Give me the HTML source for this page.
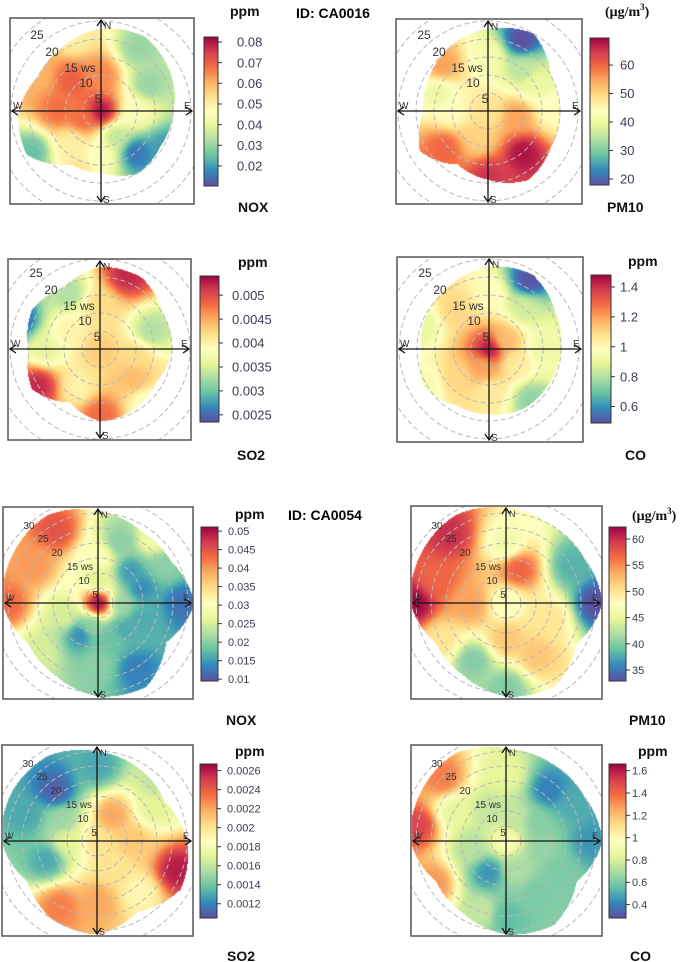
<!DOCTYPE html>
<html><head><meta charset="utf-8">
<style>
html,body{margin:0;padding:0;background:#fff;}
#wrap{position:relative;width:685px;height:962px;overflow:hidden;}
canvas,svg{position:absolute;left:0;top:0;}
</style></head>
<body>
<div id="wrap">
<canvas id="cv" width="685" height="962"></canvas>
<svg id="sv" width="685" height="962" xmlns="http://www.w3.org/2000/svg">
<defs>
<linearGradient id="spec" x1="0" y1="1" x2="0" y2="0">
<stop offset="0" stop-color="#5E4FA2"/><stop offset="0.1" stop-color="#3288BD"/><stop offset="0.2" stop-color="#66C2A5"/>
<stop offset="0.3" stop-color="#ABDDA4"/><stop offset="0.4" stop-color="#E6F598"/><stop offset="0.5" stop-color="#FFFFBF"/>
<stop offset="0.6" stop-color="#FEE08B"/><stop offset="0.7" stop-color="#FDAE61"/><stop offset="0.8" stop-color="#F46D43"/>
<stop offset="0.9" stop-color="#D53E4F"/><stop offset="1" stop-color="#9E0142"/>
</linearGradient>
</defs>
<text x="296" y="18" font-family="Liberation Sans, sans-serif" font-weight="bold" font-size="14">ID: CA0016</text>
<text x="288" y="520" font-family="Liberation Sans, sans-serif" font-weight="bold" font-size="14">ID: CA0054</text>
</svg>
</div>
<script>
// ---------- data: control points (direction deg, wind speed, value), boundary (max ws every 30deg), ticks ----------
const p1Dirs=[0,0,315,270,300,30,60,90,140,150,180,225,240,200,340,120,250];
const p1Ws=[0,10,12,12,20,20,15,10,15,8,12,12,22,18,22,20,6];
const p1Vals=[0.08,0.065,0.07,0.068,0.06,0.03,0.03,0.045,0.015,0.035,0.045,0.05,0.025,0.052,0.05,0.02,0.068];
const p1Bound=[23,24,22,20,19,20,17,17,24,23,20,21];
const p1Ticks=[0.02,0.03,0.04,0.05,0.06,0.07,0.08];

const p2Dirs=[0,25,40,0,315,290,270,140,180,230,100,90,200,60];
const p2Ws=[0,22,15,15,18,15,10,15,18,16,8,18,8,15];
const p2Vals=[48,18,35,42,55,40,44,68,65,60,55,44,50,40];
const p2Bound=[23,25,20,20,20,22,19,17,22,18,19,21];
const p2Ticks=[20,30,40,50,60];

const p3Dirs=[0,20,0,330,290,270,70,100,130,140,180,240,210,300];
const p3Ws=[0,22,12,18,24,15,15,10,12,20,18,20,12,10];
const p3Vals=[0.0043,0.0052,0.0042,0.0033,0.0025,0.0036,0.0033,0.0042,0.0044,0.0038,0.0048,0.0052,0.004,0.004];
const p3Bound=[23,23,20,20,18,19,20,17,22,20,22,20];
const p3Ticks=[0.0025,0.003,0.0035,0.004,0.0045,0.005];

const p4Dirs=[0,30,40,0,320,290,90,140,180,230,240,120,200,60];
const p4Ws=[0,22,15,15,15,20,15,18,12,12,20,8,5,5];
const p4Vals=[1.45,0.5,0.85,1.0,1.1,0.9,0.92,0.75,1.05,1.1,0.95,1.05,1.2,1.15];
const p4Bound=[23,24,21,20,19,19,18,18,21,19,20,21];
const p4Ticks=[0.6,0.8,1,1.2,1.4];

const p5Dirs=[0,0,330,300,270,0,45,60,40,90,110,150,210,180,230,250,90,200,135,20,70,160];
const p5Ws=[0,8,28,25,30,15,15,25,28,28,15,25,12,20,25,12,8,8,12,22,15,12];
const p5Vals=[0.05,0.026,0.045,0.04,0.043,0.03,0.015,0.02,0.028,0.012,0.016,0.013,0.014,0.02,0.025,0.025,0.021,0.02,0.016,0.02,0.014,0.018];
const p5Bound=[31,28,28,32,26,32,31,28,27,32,33,34];
const p5Ticks=[0.01,0.015,0.02,0.025,0.03,0.035,0.04,0.045,0.05];

const p6Dirs=[0,20,0,320,290,270,270,60,90,110,150,180,210,240,180];
const p6Ws=[0,12,20,30,25,31,12,25,30,15,20,12,22,25,28];
const p6Vals=[47,57,46,60,57,62,54,38,33,50,52,52,40,50,40];
const p6Bound=[32,30,30,32,27,32,31,28,27,32,33,34];
const p6Ticks=[35,40,45,50,55,60];

const p7Dirs=[0,30,320,0,290,250,270,60,110,140,180,210,150,45,300,90];
const p7Ws=[0,10,22,25,25,18,10,22,28,22,20,25,10,28,14,12];
const p7Vals=[0.002,0.0022,0.0011,0.0013,0.0013,0.0013,0.0017,0.0017,0.0026,0.0019,0.0022,0.0023,0.002,0.0016,0.0015,0.0021];
const p7Bound=[30,28,26,30,32,27,31,30,27,32,33,33];
const p7Ticks=[0.0012,0.0014,0.0016,0.0018,0.002,0.0022,0.0024,0.0026];

const p8Dirs=[0,315,280,240,300,0,40,60,90,100,150,180,210,200,260,20,120,330,60,160];
const p8Ws=[0,30,30,28,20,22,22,25,28,12,20,25,12,25,12,8,20,12,12,10];
const p8Vals=[0.95,1.35,1.5,1.3,0.85,0.85,0.4,0.5,0.45,0.65,0.6,0.55,0.45,0.75,0.72,0.75,0.6,0.75,0.62,0.7];
const p8Bound=[31,30,30,32,27,32,31,28,27,32,33,34];
const p8Ticks=[0.4,0.6,0.8,1,1.2,1.4,1.6];

// ---------- layout ----------
const panels=[
 {n:'nox-ca0016',dirs:p1Dirs,ws:p1Ws,vals:p1Vals,bound:p1Bound,ticks:p1Ticks,min:0.0103,max:0.0824,
  box:[10,18,194,204],cx:101,cy:111,sc:3.6,rings:[5,10,15,20,25],bar:[204,37,218,186],fs:13,tl:[237],
  unit:['ppm',230,16,false],name:['NOX',238,212],big:true},
 {n:'pm10-ca0016',dirs:p2Dirs,ws:p2Ws,vals:p2Vals,bound:p2Bound,ticks:p2Ticks,min:17.9,max:69.5,
  box:[396,19,582,204],cx:488,cy:111,sc:3.6,rings:[5,10,15,20,25],bar:[590,38,609,185],fs:13,tl:[620],
  unit:['(μg/m',605,16,true],name:['PM10',607,212],big:true},
 {n:'so2-ca0016',dirs:p3Dirs,ws:p3Ws,vals:p3Vals,bound:p3Bound,ticks:p3Ticks,min:0.00235,max:0.0054,
  box:[8,259,191,440],cx:100,cy:349,sc:3.6,rings:[5,10,15,20,25],bar:[200,276,219,422],fs:13,tl:[232],
  unit:['ppm',238,267,false],name:['SO2',237,460],big:true},
 {n:'co-ca0016',dirs:p4Dirs,ws:p4Ws,vals:p4Vals,bound:p4Bound,ticks:p4Ticks,min:0.49,max:1.48,
  box:[397,257,583,442],cx:489,cy:349,sc:3.6,rings:[5,10,15,20,25],bar:[591,275,611,423],fs:13,tl:[620],
  unit:['ppm',628,266,false],name:['CO',625,460],big:true},
 {n:'nox-ca0054',dirs:p5Dirs,ws:p5Ws,vals:p5Vals,bound:p5Bound,ticks:p5Ticks,min:0.0095,max:0.0511,
  box:[3,507,193,699],cx:98,cy:603,sc:3.0,rings:[5,10,15,20,25,30],bar:[201,527,218,681],fs:11,tl:[228],
  unit:['ppm',235,519,false],name:['NOX',226,725],big:false},
 {n:'pm10-ca0054',dirs:p6Dirs,ws:p6Ws,vals:p6Vals,bound:p6Bound,ticks:p6Ticks,min:32.9,max:62.3,
  box:[411,506,602,699],cx:506,cy:603,sc:3.0,rings:[5,10,15,20,25,30],bar:[609,527,626,681],fs:11,tl:[632],
  unit:['(μg/m',632,520,true],name:['PM10',629,725],big:false},
 {n:'so2-ca0054',dirs:p7Dirs,ws:p7Ws,vals:p7Vals,bound:p7Bound,ticks:p7Ticks,min:0.00105,max:0.00267,
  box:[2,745,193,936],cx:97,cy:841,sc:3.0,rings:[5,10,15,20,25,30],bar:[200,764,217,918],fs:11,tl:[227],
  unit:['ppm',235,756,false],name:['SO2',227,961],big:false},
 {n:'co-ca0054',dirs:p8Dirs,ws:p8Ws,vals:p8Vals,bound:p8Bound,ticks:p8Ticks,min:0.28,max:1.66,
  box:[411,745,602,936],cx:506,cy:841,sc:3.0,rings:[5,10,15,20,25,30],bar:[609,764,626,918],fs:11,tl:[632],
  unit:['ppm',638,756,false],name:['CO',630,961],big:false}
];

const SPEC=[[94,79,162],[50,136,189],[102,194,165],[171,221,164],[230,245,152],[255,255,191],[254,224,139],[253,174,97],[244,109,67],[213,62,79],[158,1,66]];
function spec(t){t=Math.max(0,Math.min(1,t))*10;const i=Math.min(9,Math.floor(t)),f=t-i;const a=SPEC[i],b=SPEC[i+1];
 return [a[0]+(b[0]-a[0])*f,a[1]+(b[1]-a[1])*f,a[2]+(b[2]-a[2])*f];}
const rad=d=>d*Math.PI/180;

// ---------- heatmaps ----------
const cv=document.getElementById('cv'),ctx=cv.getContext('2d');
const img=ctx.createImageData(685,962),D=img.data;
for(let i=0;i<D.length;i+=4){D[i]=255;D[i+1]=255;D[i+2]=255;D[i+3]=255;}
panels.forEach(p=>{
 const pts=p.dirs.map((d,i)=>[p.ws[i]*Math.sin(rad(d)),p.ws[i]*Math.cos(rad(d)),p.vals[i]]);
 for(let y=p.box[1]+1;y<p.box[3];y++)for(let x=p.box[0]+1;x<p.box[2];x++){
  const ex=(x-p.cx)/p.sc,ny=(p.cy-y)/p.sc,r=Math.hypot(ex,ny);
  let th=Math.atan2(ex,ny)*180/Math.PI;if(th<0)th+=360;
  const k=th/30,i0=Math.floor(k)%12,i1=(i0+1)%12,f=k-Math.floor(k);
  const lim=p.bound[i0]*(1-f)+p.bound[i1]*f;
  if(r>lim)continue;
  let sw=0,sv=0;
  for(const q of pts){const d2=(ex-q[0])**2+(ny-q[1])**2;const w=1/Math.pow(d2+3,1.7);sw+=w;sv+=w*q[2];}
  const c=spec((sv/sw-p.min)/(p.max-p.min));const o=(y*685+x)*4;D[o]=c[0];D[o+1]=c[1];D[o+2]=c[2];
 }
});
ctx.putImageData(img,0,0);

// ---------- overlay ----------
const sv=document.getElementById('sv'),NS='http://www.w3.org/2000/svg';
function mk(tag,attrs,parent){const e=document.createElementNS(NS,tag);for(const k in attrs)e.setAttribute(k,attrs[k]);(parent||sv).appendChild(e);return e;}
function fmt(v){return String(+v.toPrecision(6));}
panels.forEach((p,pi)=>{
 const g=mk('g',{});
 
 
 const cp=mk('clipPath',{id:'clip'+pi},g);
 mk('rect',{x:p.box[0],y:p.box[1],width:p.box[2]-p.box[0],height:p.box[3]-p.box[1]},cp);
 const rg=mk('g',{'clip-path':'url(#clip'+pi+')'},g);
 
 
 p.rings.concat([p.rings[p.rings.length-1]+5]).forEach(w=>{
  const c=mk('circle',{cx:p.cx,cy:p.cy,r:w*p.sc,fill:'none',stroke:'#b8b8b8','stroke-width':1,'stroke-dasharray':'5,3'},rg);
  
  
 });
 const L=p.box[0]+2,R=p.box[2]-2,T=p.box[1]+2,B=p.box[3]-2;
 const ax=mk('path',{d:`M${L},${p.cy}H${R}M${p.cx},${T}V${B}M${L+6},${p.cy-4}L${L},${p.cy}L${L+6},${p.cy+4}M${R-6},${p.cy-4}L${R},${p.cy}L${R-6},${p.cy+4}M${p.cx-4},${T+6}L${p.cx},${T}L${p.cx+4},${T+6}M${p.cx-4},${B-6}L${p.cx},${B}L${p.cx+4},${B-6}`,stroke:'#111','stroke-width':1.3,fill:'none'},g);
 
 
 const fsm=p.big?10:9;
 [['N',p.cx+3,T+9],['S',p.cx+2,B+1],['W',L+1,p.cy-2],['E',R-8,p.cy-2]].forEach(a=>{
  const t=mk('text',{x:a[1],y:a[2],'font-family':'Liberation Sans, sans-serif','font-size':fsm,fill:'#333'},g);t.textContent=a[0];
  
  
 });
 const labs=p.big?[['25',-64,-76],['20',-49,-59],['15 ws',-21,-43],['10',-15,-28],['5',-3,-12]]
                 :[['30',-69,-78],['25',-55,-65],['20',-41,-51],['15 ws',-18,-37],['10',-14,-23],['5',-3,-9]];
 labs.forEach(l=>{
  const t=mk('text',{x:p.cx+l[1],y:p.cy+l[2]+4,'text-anchor':'middle','font-family':'Liberation Sans, sans-serif','font-size':p.big?12:10,fill:'#333'},g);
  t.textContent=l[0];
  
  
 });
 const bx=mk('rect',{x:p.box[0],y:p.box[1],width:p.box[2]-p.box[0],height:p.box[3]-p.box[1],fill:'none',stroke:'#555','stroke-width':1.5},g);
 
 
 const [x0,y0,x1,y1]=p.bar;
 const cb=mk('rect',{x:x0,y:y0,width:x1-x0,height:y1-y0,fill:'url(#spec)',stroke:'#333','stroke-width':1},g);
 
 
 const yOf=v=>y1-(v-p.min)/(p.max-p.min)*(y1-y0);
 p.ticks.forEach(v=>{
  const y=yOf(v);
  const tk=mk('line',{x1:x1,x2:x1+4,y1:y,y2:y,stroke:'#333','stroke-width':1},g);
  
  
  const t=mk('text',{x:p.tl[0],y:y+p.fs*0.36,'font-family':'Liberation Sans, sans-serif','font-size':p.fs,fill:'#3c3c50'},g);
  t.textContent=fmt(v);
  
  
 });
 let u;
 if(p.unit[3]){
  u=mk('text',{x:p.unit[1],y:p.unit[2],'font-family':'Liberation Serif, serif','font-weight':'bold','font-size':14,fill:'#111'},g);
  u.textContent=p.unit[0];
  const sp=mk('tspan',{'font-size':9,dy:-6},u);sp.textContent='3';
  const sp2=mk('tspan',{dy:6},u);sp2.textContent=')';
 } else {
  u=mk('text',{x:p.unit[1],y:p.unit[2],'font-family':'Liberation Sans, sans-serif','font-weight':'bold','font-size':14,fill:'#111'},g);
  u.textContent=p.unit[0];
 }
 
 
 const nm=mk('text',{x:p.name[1],y:p.name[2],'font-family':'Liberation Sans, sans-serif','font-weight':'bold','font-size':14,fill:'#111'},g);
 nm.textContent=p.name[0];
 
 
});
</script>
</body></html>
